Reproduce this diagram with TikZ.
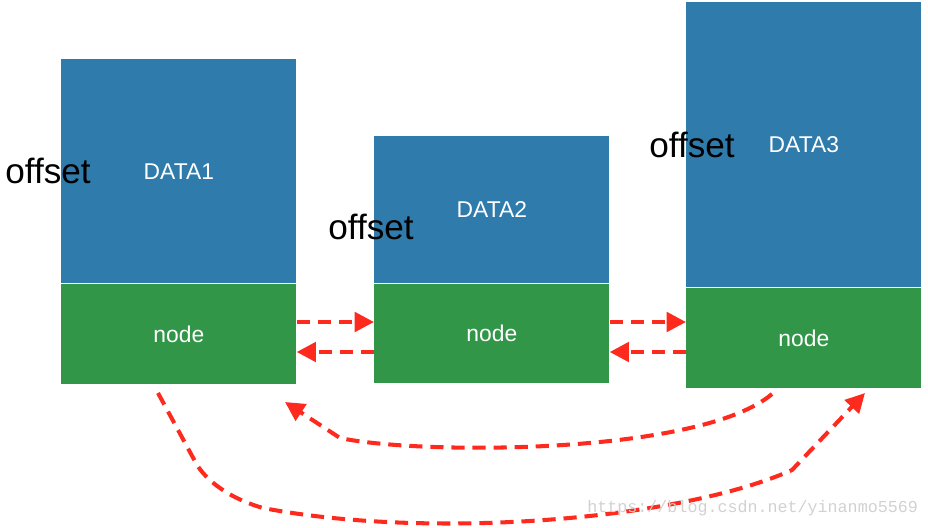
\documentclass[tikz,border=0pt]{standalone}
\usepackage{fontspec}
\setmainfont{Liberation Sans}
\setmonofont{Liberation Mono}
\usetikzlibrary{positioning,arrows.meta}
\definecolor{datblue}{RGB}{47,123,172}
\definecolor{nodegreen}{RGB}{50,150,72}
\definecolor{linkred}{RGB}{255,42,30}
\begin{document}
\begin{tikzpicture}[x=0.02cm,y=-0.02cm,
		box/.style={text=white,inner sep=0pt,minimum width=4.7cm,font=\fontsize{13}{15}\selectfont},
		datbox/.style={box,fill=datblue},
		nodbox/.style={box,fill=nodegreen,minimum height=2cm},
		link/.style={linkred,line width=2.3pt,dash pattern=on 7.5pt off 4.5pt,-{Triangle[length=11pt,width=11pt]}},
		offtext/.style={anchor=base west,inner sep=0pt,font=\fontsize{20}{24}\selectfont}]
			\useasboundingbox (0,0) rectangle (928,527);
			\node[datbox,minimum height=4.48cm,anchor=north west] (d1) at (61,59) {DATA1};
			\node[nodbox,below=0pt of d1] (n1) {node};
			\node[datbox,minimum height=2.94cm,anchor=north west] (d2) at (374,136) {DATA2};
			\node[nodbox,minimum height=1.98cm,below=0pt of d2] (n2) {node};
			\node[datbox,minimum height=5.7cm,anchor=north west] (d3) at (686,2) {DATA3};
			\node[nodbox,below=0pt of d3] (n3) {node};
			\node[offtext] (o1) at (5,183) {offset};
			\node[offtext] (o2) at (328,239) {offset};
			\node[offtext] (o3) at (649,157) {offset};
			\path (0,322) coordinate (r1)
			(0,352) coordinate (r2)
			(772,394) coordinate (a0)
			(340,438) coordinate (a1)
			(285,402) coordinate (a2)
			(158,393) coordinate (b0)
			(197,465) coordinate (b1)
			(263,508) coordinate (b2)
			(792,470) coordinate (b3)
			(865,393) coordinate (b4);
			\draw[link] (n1.east |- r1)--(n2.west |- r1);
			\draw[link] (n2.west |- r2)--(n1.east |- r2);
			\draw[link] (n2.east |- r1)--(n3.west |- r1);
			\draw[link] (n3.west |- r2)--(n2.east |- r2);
			\draw[link] (a0) .. controls (700,455) and (420,455) .. (a1)--(a2);
			\draw[link] (b0)--(b1) .. controls (210,485) and (235,500) .. (b2) .. controls (430,540) and (680,520) .. (b3)--(b4);
			\node[anchor=base west,inner sep=0pt,text=black!18,font=\ttfamily\fontsize{9.5}{11}\selectfont] (wm) at (587,512) {https://blog.csdn.net/yinanmo5569};
		\end{tikzpicture}
\end{document}
